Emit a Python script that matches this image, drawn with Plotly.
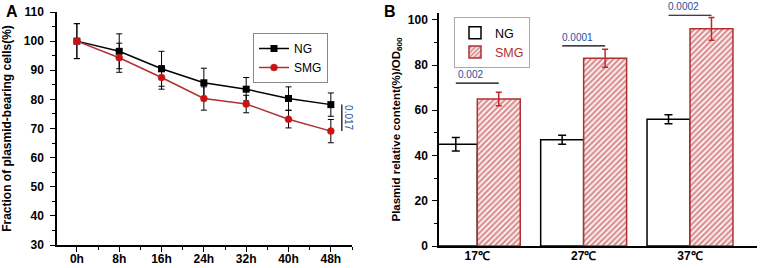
import plotly.graph_objects as go

# ---------------- data ----------------
time_labels = ["0h", "8h", "16h", "24h", "32h", "40h", "48h"]
ng_frac = [100, 96.5, 90.5, 85.7, 83.5, 80.3, 78.2]
ng_frac_err = [6, 6, 6, 5, 4, 4, 4]
smg_frac = [100, 94.3, 87.5, 80.3, 78.4, 73.2, 69.1]
smg_frac_err = [6, 5, 4, 4, 3, 3, 4]
p_value_a = "0.017"

temp_labels = ["17℃", "27℃", "37℃"]
ng_plasmid = [45, 47, 56]
ng_plasmid_err = [3, 2, 2]
smg_plasmid = [65, 83, 96]
smg_plasmid_err = [3, 4, 5]
p_values_b = ["0.002", "0.0001", "0.0002"]
bracket_levels = [72, 88.5, 102]

# ---------------- style ----------------
FONT = "Liberation Sans, Arial, sans-serif"
RED = "#d01010"
DARKRED = "#b03030"
BLUE = "#1f4e9c"
W, H = 765, 268
YB_MAX = 103

xa = list(range(len(time_labels)))
xb = list(range(len(temp_labels)))

fig = go.Figure()

err_style = dict(type="data", color="black", thickness=1, width=3)

fig.add_trace(go.Scatter(
    x=xa, y=ng_frac, name="NG", mode="lines+markers",
    line=dict(color="black", width=1.5),
    marker=dict(symbol="square", size=7, color="black"),
    error_y=dict(array=ng_frac_err, **err_style),
    xaxis="x", yaxis="y", legend="legend"))
fig.add_trace(go.Scatter(
    x=xa, y=smg_frac, name="SMG", mode="lines+markers",
    line=dict(color=DARKRED, width=1.5),
    marker=dict(symbol="circle", size=7, color=RED, line=dict(color=DARKRED, width=0.5)),
    error_y=dict(array=smg_frac_err, **err_style),
    xaxis="x", yaxis="y", legend="legend"))

bar_w = 0.404
fig.add_trace(go.Bar(
    x=xb, y=ng_plasmid, name="NG", width=bar_w, offset=-bar_w,
    marker=dict(color="white", line=dict(color="black", width=1.5)),
    error_y=dict(type="data", array=ng_plasmid_err, color="black", thickness=1.5, width=4),
    xaxis="x2", yaxis="y2", legend="legend2"))
fig.add_trace(go.Bar(
    x=xb, y=smg_plasmid, name="<span style='color:%s'>SMG</span>" % DARKRED,
    width=bar_w, offset=0,
    marker=dict(color="white", line=dict(color=DARKRED, width=1.5),
                pattern=dict(shape="/", fgcolor="#b82222", bgcolor="white",
                             size=4, solidity=0.6)),
    error_y=dict(type="data", array=smg_plasmid_err, color="#c02828", thickness=1.5, width=3),
    xaxis="x2", yaxis="y2", legend="legend2"))

# significance in panel A
last = len(time_labels) - 1
fig.add_shape(type="line", xref="x", yref="y",
              x0=last + 0.26, x1=last + 0.26, y0=smg_frac[-1], y1=ng_frac[-1],
              line=dict(color="black", width=1.2))
fig.add_annotation(xref="x", yref="y", x=last + 0.40, y=(smg_frac[-1] + ng_frac[-1]) / 2,
                   text=p_value_a, textangle=90, showarrow=False,
                   font=dict(family=FONT, size=10, color=BLUE))

# significance in panel B
half = bar_w / 2
for i, (p, lev) in enumerate(zip(p_values_b, bracket_levels)):
    fig.add_shape(type="line", xref="x2", yref="y2",
                  x0=xb[i] - half, x1=xb[i] + half, y0=lev, y1=lev,
                  line=dict(color="black", width=1.2))
    fig.add_annotation(xref="x2", yref="y2 domain", x=xb[i] - 0.06,
                       y=(lev + 0.8) / YB_MAX, borderpad=0,
                       text=p, showarrow=False, yanchor="bottom",
                       font=dict(family=FONT, size=10, color=BLUE))

# panel labels
fig.add_annotation(xref="paper", yref="paper", x=4 / W, y=1 - 1 / H, text="<b>A</b>",
                   showarrow=False, xanchor="left", yanchor="top",
                   font=dict(family=FONT, size=16, color="black"))
fig.add_annotation(xref="paper", yref="paper", x=382 / W, y=1 - 1 / H, text="<b>B</b>",
                   showarrow=False, xanchor="left", yanchor="top",
                   font=dict(family=FONT, size=16, color="black"))

tickfont = dict(family=FONT, size=12, color="black", weight="bold")
axis_common = dict(showline=True, linecolor="black", linewidth=1.5, mirror=False,
                   showgrid=False, zeroline=False, tickfont=tickfont,
                   ticks="outside", ticklen=5, tickwidth=1.2, tickcolor="black")

fig.update_layout(
    width=W, height=H, margin=dict(l=0, r=0, t=0, b=0, autoexpand=False),
    paper_bgcolor="white", plot_bgcolor="white",
    barmode="overlay",
    xaxis=dict(domain=[57 / W, 352 / W], range=[-0.47, 6.5],
               tickvals=xa, ticktext=time_labels,
               minor=dict(tickvals=[v + 0.5 for v in xa], ticks="outside", ticklen=3,
                          tickcolor="black"),
               anchor="y", ticklabelstandoff=-3, **axis_common),
    yaxis=dict(domain=[(H - 245) / H, (H - 12) / H], range=[30, 110], dtick=10,
               minor=dict(dtick=5, ticks="outside", ticklen=3, tickcolor="black"),
               title=dict(text="Fraction of plasmid-bearing cells(%)", standoff=10,
                          font=dict(family=FONT, size=12, color="black", weight="bold")),
               anchor="x", ticklabelstandoff=4, **axis_common),
    xaxis2=dict(domain=[439 / W, 757 / W], range=[-0.36, 2.63],
                tickvals=xb, ticktext=temp_labels,
                anchor="y2", ticklabelstandoff=-2, **{**axis_common, "ticks": ""}),
    yaxis2=dict(domain=[(H - 246) / H, (H - 13) / H], range=[0, YB_MAX], dtick=20,
                minor=dict(dtick=10, ticks="outside", ticklen=3, tickcolor="black"),
                title=dict(text="Plasmid relative content(%)/OD<sub>600</sub>", standoff=5,
                           font=dict(family=FONT, size=11.5, color="black", weight="bold")),
                anchor="x2", ticklabelstandoff=2, **axis_common),
    legend=dict(x=253 / W, y=1 - 33 / H, xanchor="left", yanchor="top",
                bgcolor="white", bordercolor="#888888", borderwidth=1,
                font=dict(family=FONT, size=12, color="black"),
                tracegroupgap=0, itemwidth=30),
    legend2=dict(x=454 / W, y=1 - 17 / H, xanchor="left", yanchor="top",
                 bgcolor="white", bordercolor="#aaaaaa", borderwidth=1,
                 font=dict(family=FONT, size=12.5, color="black"),
                 tracegroupgap=0, itemwidth=30),
    showlegend=True,
)

fig.write_html("out.html", config={"displayModeBar": False},
               post_script="document.body.style.margin='0';document.body.style.padding='0';")
